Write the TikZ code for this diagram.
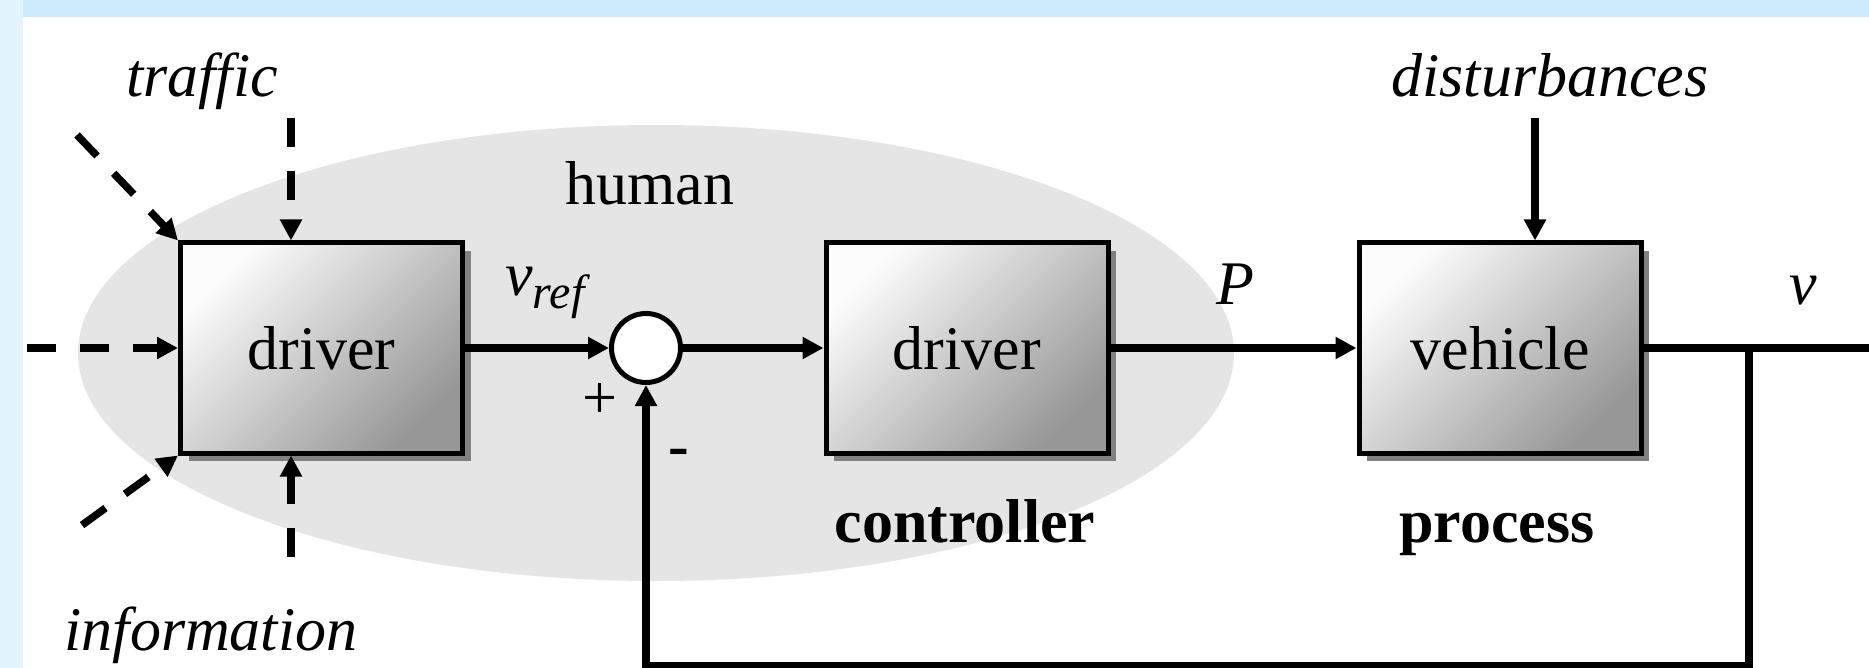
\documentclass[tikz,border=0pt]{standalone}
\usepackage{fontspec}
\setmainfont{Liberation Serif}
\usetikzlibrary{arrows.meta,shadows,shapes.geometric}
\definecolor{topband}{HTML}{CCEBFC}
\definecolor{leftband}{HTML}{E3F4FD}
\definecolor{humanfill}{HTML}{E5E5E5}
\definecolor{shadeA}{HTML}{FCFCFC}
\definecolor{shadeB}{HTML}{979797}
\definecolor{shadowgray}{HTML}{808080}
\begin{document}
\begin{tikzpicture}[x=0.5pt,y=-0.5pt,
  font=\fontsize{31}{37}\selectfont,
  blockbox/.style={draw, line width=2.5pt, minimum width=141pt, minimum height=105pt, inner sep=0pt,
    top color=shadeA, bottom color=shadeB, shading angle=45,
    drop shadow={opacity=1, fill=shadowgray, shadow xshift=4pt, shadow yshift=-4pt}},
  conn/.style={line width=3.75pt, -{Triangle[length=10.5pt,width=10.5pt]}},
  dconn/.style={conn, dash pattern=on 14.5pt off 12pt},
  lbl/.style={inner sep=0pt, anchor=base}]
\path[use as bounding box, clip] (0,0) rectangle (1869,668);
\fill[white] (0,0) rectangle (1869,668);
\fill[leftband] (0,0) rectangle (23,668);
\fill[topband] (23,0) rectangle (1869,17);
% human ellipse
\node[ellipse, fill=humanfill, minimum width=578pt, minimum height=228pt, inner sep=0pt] (hum) at (656,353) {};
\node[lbl] (humanlbl) at (650,205) {human};
% blocks
\node[blockbox] (drv1) at (321.5,348) {driver};
\node[blockbox] (drv2) at (967,348) {driver};
\node[blockbox] (veh) at (1500,348) {vehicle};
\node[circle, draw, line width=2.5pt, fill=white, minimum size=34.5pt, inner sep=0pt] (sum) at (646,348) {};
% coordinates
\coordinate (trtop) at (291,118);
\coordinate (trdiag) at (77,135);
\coordinate (left) at (27,348);
\coordinate (infdiag) at (78,528);
\coordinate (infbot) at (291,557);
\coordinate (dtop) at (1535,118);
\coordinate (br) at (1749,348);
\coordinate (fbc) at (1749,666);
\coordinate (outend) at (1890,348);
% dashed inputs
\draw[dconn] (trtop) -- (trtop |- drv1.north);
\draw[dconn] (trdiag) -- (drv1.north west);
\draw[dconn] (left) -- (drv1.west);
\draw[dconn, dash phase=24pt] (infdiag) -- (drv1.south west);
\draw[dconn] (infbot) -- (infbot |- drv1.south);
% main connectors
\draw[conn] (drv1.east) -- (sum.west);
\draw[conn] (sum.east) -- (drv2.west);
\draw[conn] (drv2.east) -- (veh.west);
\draw[conn] (veh.east) -- (outend);
\draw[conn] (dtop) -- (dtop |- veh.north);
\draw[conn] (br) -- (fbc) -| (sum.south);
% labels
\node[lbl] (traffic) at (202,97) {\itshape traffic};
\node[lbl] (dist) at (1550,97) {\itshape disturbances};
\node[lbl] (info) at (211,650) {\itshape information};
\node[lbl] (ctrl) at (965,542) {\bfseries controller};
\node[lbl] (proc) at (1497,542) {\bfseries process};
\node[lbl] (P) at (1235,305) {\itshape P};
\node[lbl] (v) at (1803,305) {\itshape v};
\node[lbl, anchor=base west] (vref) at (505,296) {\itshape v\raisebox{-6pt}{\fontsize{24}{24}\selectfont ref}};
\node[inner sep=0pt] (plus) at (600,401) {+};
\node[lbl] (minus) at (679,466) {\bfseries -};
\end{tikzpicture}
\end{document}
